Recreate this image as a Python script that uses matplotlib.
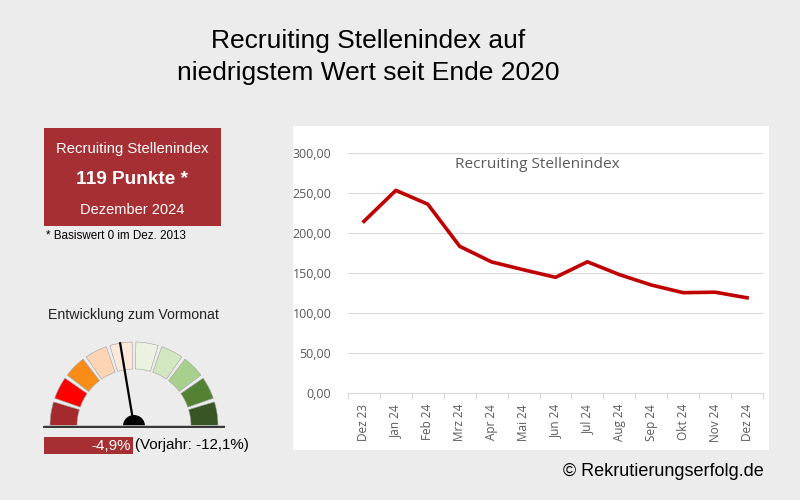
import numpy as np
import matplotlib
matplotlib.use("Agg")
import matplotlib.pyplot as plt
from matplotlib.patches import Wedge, Rectangle

# data
months = ['Dez 23', 'Jan 24', 'Feb 24', 'Mrz 24', 'Apr 24', 'Mai 24', 'Jun 24',
          'Jul 24', 'Aug 24', 'Sep 24', 'Okt 24', 'Nov 24', 'Dez 24']
index_values = [214.6, 253.3, 236.0, 183.3, 163.8, 154.0, 144.6,
                164.0, 148.0, 135.0, 125.4, 126.0, 119.0]
y_ticks = [0, 50, 100, 150, 200, 250, 300]

current_points = 119
change_month = -4.9
change_year = -12.1

gauge_colors = ['#a52a2d', '#ff0000', '#f98c16', '#fdd5b5', '#fde8da',
                '#ebf3e0', '#d2e6bf', '#a8d08c', '#538234', '#375623']

BG = '#ececec'
RED = '#a52f33'
LINE_RED = '#c00000'
CHART_FONT = ['Open Sans', 'DejaVu Sans']

plt.rcParams['font.family'] = ['Liberation Sans', 'DejaVu Sans']

fig = plt.figure(figsize=(8, 5), dpi=100)
fig.patch.set_facecolor(BG)

# overlay axes in pixel coords (y measured from top)
ov = fig.add_axes([0, 0, 1, 1])
ov.set_xlim(0, 800)
ov.set_ylim(500, 0)
ov.axis('off')

# title
ov.text(368, 41, 'Recruiting Stellenindex auf', ha='center', va='center', fontsize=19)
ov.text(368, 73, 'niedrigstem Wert seit Ende 2020', ha='center', va='center', fontsize=19)

# red info box
ov.add_patch(Rectangle((44, 128), 177, 98, facecolor=RED, edgecolor='none'))
ov.text(132.5, 149, 'Recruiting Stellenindex', ha='center', va='center', color='white', fontsize=10.7)
ov.text(132.5, 179, f'{current_points} Punkte *', ha='center', va='center', color='white',
        fontsize=13.7, fontweight='bold')
ov.text(132.5, 210, 'Dezember 2024', ha='center', va='center', color='white', fontsize=10.5)
ov.text(46, 236, '* Basiswert 0 im Dez. 2013', ha='left', va='center', fontsize=8.4)

# gauge
ov.text(48, 315, 'Entwicklung zum Vormonat', ha='left', va='center', fontsize=10.2, color='#222222')
gauge = fig.add_axes([0, 0, 1, 1])
gauge.set_xlim(0, 800)
gauge.set_ylim(0, 500)
gauge.axis('off')
cx, cy = 134, 500 - 426
r_out, r_in = 84, 57
n = len(gauge_colors)
step = 180 / n
gap = 2.6
for i, c in enumerate(gauge_colors):
    a1 = 180 - i * step
    a0 = a1 - step
    th0 = 0 if i == n - 1 else a0 + gap / 2
    th1 = 180 if i == 0 else a1 - gap / 2
    gauge.add_patch(Wedge((cx, cy), r_out, th0, th1, width=r_out - r_in,
                          facecolor=c, edgecolor='#a0a0a0', linewidth=0.4))

# needle
ang = np.deg2rad(99.5)
gauge.plot([cx, cx + 85 * np.cos(ang)], [cy, cy + 85 * np.sin(ang)], color='black', lw=1.6,
           solid_capstyle='butt')
gauge.add_patch(Wedge((cx, cy), 11, 0, 180, facecolor='black', edgecolor='none'))
gauge.plot([44, 224], [cy - 1, cy - 1], color='#333333', lw=1.4)
gauge.plot([44, 224], [cy + 1.2, cy + 1.2], color='#bbbbbb', lw=0.6)

# change box
ov.add_patch(Rectangle((44, 437), 89, 17, facecolor=RED, edgecolor='none'))
ov.text(131, 445.5, f'{change_month:.1f}%'.replace('.', ','), ha='right', va='center',
        color='white', fontsize=10.9)
ov.text(135, 445.5, f'(Vorjahr: {change_year:.1f}%)'.replace('.', ','), ha='left', va='center',
        color='black', fontsize=10.9)

# copyright
ov.text(563, 471, '\u00a9 Rekrutierungserfolg.de', ha='left', va='center', fontsize=13)

# white chart panel
ov.add_patch(Rectangle((293, 126), 476, 324, facecolor='white', edgecolor='none', zorder=0))

# line chart
ax = fig.add_axes([348 / 800, 107 / 500, 415 / 800, 240 / 500])
ax.set_facecolor('none')
x = np.arange(len(months))
ax.plot(x, index_values, color=LINE_RED, lw=2.6, solid_joinstyle='round')
ax.set_xlim(-0.5, len(months) - 0.5)
ax.set_ylim(0, 300)
ax.set_yticks(y_ticks)
ax.set_yticklabels([f'{v:.2f}'.replace('.', ',') for v in y_ticks],
                   fontsize=9, color='#595959', family=CHART_FONT)
ax.yaxis.grid(True, color='#d9d9d9', lw=0.8)
ax.set_axisbelow(True)
ax.tick_params(axis='y', length=0, pad=12)
ax.set_xticks(np.arange(len(months) + 1) - 0.5, minor=False)
ax.set_xticklabels([])
ax.set_xticks(x, minor=True)
ax.set_xticklabels(months, minor=True, rotation=90, fontsize=8.5, color='#595959',
                   family=CHART_FONT)
ax.tick_params(axis='x', which='major', length=4, color='#d9d9d9', direction='out')
ax.tick_params(axis='x', which='minor', length=0, pad=8)
for s in ['top', 'right', 'left']:
    ax.spines[s].set_visible(False)
ax.spines['bottom'].set_color('#d9d9d9')
ax.text((537 - 348) / 415, 0.95, 'Recruiting Stellenindex', transform=ax.transAxes,
        ha='center', va='center', fontsize=11.1, color='#595959', family=CHART_FONT)

fig.savefig('out.png', dpi=100, facecolor=BG)
